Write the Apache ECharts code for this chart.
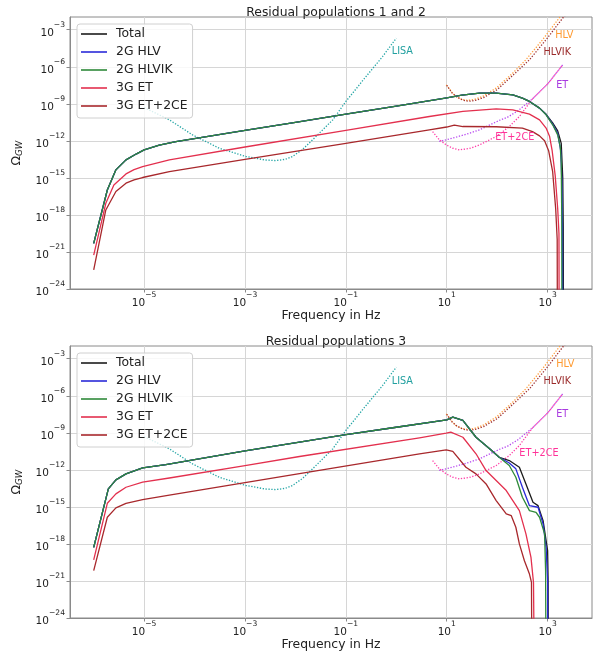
<!DOCTYPE html>
<html><head><meta charset="utf-8">
<script src="https://cdn.jsdelivr.net/npm/echarts@6/dist/echarts.min.js"></script>
<style>html,body{margin:0;padding:0;background:#fff}#c{width:606px;height:655px}</style>
</head><body><div id="c"></div>
<script>
// ---------------- data (all values are log10 exponents) ----------------
const xTicks = [-5, -3, -1, 1, 3];          // log10 f
const yTicks = [-24, -21, -18, -15, -12, -9, -6, -3]; // log10 Omega
const titles = ['Residual populations 1 and 2', 'Residual populations 3'];
const popNames = ['Total', '2G HLV', '2G HLVIK', '3G ET', '3G ET+2CE'];
const sensNames = ['LISA', 'HLV', 'HLVIK', 'ET', 'ET+2CE'];

// Panel 1 : residual populations 1 and 2
const p1TotalF  = [-6.0,-5.73,-5.56,-5.36,-5.15,-5.0,-4.7,-4.37,-3,-2,-1,0,1.0,1.3,1.65,1.98,2.31,2.5,2.64,2.84,2.97,3.1,3.2,3.27,3.3,3.31,3.315];
const p1TotalO  = [-20.3,-15.98,-14.35,-13.54,-13.05,-12.73,-12.35,-12.06,-11.16,-10.5,-9.84,-9.18,-8.52,-8.3,-8.13,-8.13,-8.27,-8.54,-8.81,-9.35,-9.85,-10.55,-11.2,-12.2,-15,-19,-30];
const p1HlvF    = [-6.0,-5.73,-5.56,-5.36,-5.15,-5.0,-4.7,-4.37,-3,-2,-1,0,1.0,1.3,1.65,1.98,2.31,2.5,2.64,2.84,2.97,3.1,3.2,3.26,3.28,3.295,3.3];
const p1HlvO    = [-20.3,-15.98,-14.35,-13.54,-13.05,-12.73,-12.35,-12.06,-11.16,-10.5,-9.84,-9.18,-8.52,-8.3,-8.13,-8.13,-8.27,-8.54,-8.81,-9.35,-9.87,-10.65,-11.4,-12.8,-15,-19,-30];
const p1HlvikF  = [-6.0,-5.73,-5.56,-5.36,-5.15,-5.0,-4.7,-4.37,-3,-2,-1,0,1.0,1.3,1.65,1.98,2.31,2.5,2.64,2.84,2.97,3.1,3.2,3.25,3.27,3.28,3.285];
const p1HlvikO  = [-20.3,-15.98,-14.35,-13.54,-13.05,-12.73,-12.35,-12.06,-11.16,-10.5,-9.84,-9.18,-8.52,-8.3,-8.13,-8.13,-8.27,-8.54,-8.81,-9.35,-9.89,-10.7,-11.52,-12.46,-13.8,-18,-30];
const p1EtF     = [-6.0,-5.76,-5.6,-5.36,-5.2,-5.03,-4.5,-3,-1,0.655,1.32,1.98,2.31,2.64,2.84,2.97,3.04,3.09,3.15,3.2,3.225,3.23];
const p1EtO     = [-21.25,-17.06,-15.57,-14.68,-14.33,-14.08,-13.54,-12.5,-11.15,-10.03,-9.62,-9.41,-9.49,-9.84,-10.3,-10.97,-11.65,-12.8,-14.8,-17.5,-19.5,-30];
const p1Et2ceF  = [-6.0,-5.76,-5.56,-5.36,-5.2,-5.03,-4.5,-3,-1,0.655,1.0,1.15,1.32,1.98,2.5,2.7,2.84,2.94,3.02,3.1,3.16,3.19,3.195];
const p1Et2ceO  = [-22.46,-17.6,-16.1,-15.43,-15.17,-14.97,-14.49,-13.5,-12.2,-11.11,-10.88,-10.72,-10.84,-10.86,-10.97,-11.25,-11.6,-12.0,-12.8,-14.5,-17.5,-20,-30];

// Panel 2 : residual populations 3
const p2TotalF  = [-6.0,-5.71,-5.56,-5.36,-5.03,-4.57,-3,-1.92,-1.0,0,1.0,1.12,1.32,1.58,1.85,2.04,2.24,2.44,2.57,2.71,2.81,2.91,3.0,3.01,3.015];
const p2TotalO  = [-18.28,-13.54,-12.81,-12.33,-11.84,-11.57,-10.47,-9.76,-9.14,-8.55,-7.95,-7.73,-8.0,-9.36,-10.3,-10.98,-11.25,-11.79,-13.14,-14.63,-14.9,-16.11,-18.55,-21,-30];
const p2HlvF    = [-6.0,-5.71,-5.56,-5.36,-5.03,-4.57,-3,-1.92,-1.0,0,1.0,1.12,1.32,1.58,1.85,2.04,2.24,2.37,2.5,2.64,2.81,2.91,2.97,3.0,3.005];
const p2HlvO    = [-18.28,-13.54,-12.81,-12.33,-11.84,-11.57,-10.47,-9.76,-9.14,-8.55,-7.95,-7.73,-8.0,-9.36,-10.3,-10.98,-11.45,-11.92,-13.41,-14.9,-15.03,-16.38,-18.28,-20.98,-30];
const p2HlvikF  = [-6.0,-5.71,-5.56,-5.36,-5.03,-4.57,-3,-1.92,-1.0,0,1.0,1.12,1.32,1.58,1.85,2.04,2.24,2.37,2.5,2.64,2.77,2.84,2.94,2.96,2.97];
const p2HlvikO  = [-18.28,-13.54,-12.81,-12.33,-11.84,-11.57,-10.47,-9.76,-9.14,-8.55,-7.95,-7.73,-8.0,-9.36,-10.3,-10.98,-11.65,-12.6,-14.22,-15.3,-15.44,-15.84,-17.19,-20.17,-30];
const p2EtF     = [-6.0,-5.73,-5.56,-5.36,-5.03,-4.5,-3,-1.92,0.46,0.99,1.08,1.32,1.58,1.78,1.98,2.18,2.31,2.44,2.57,2.67,2.72,2.74];
const p2EtO     = [-19.3,-14.71,-13.95,-13.41,-13.0,-12.66,-11.65,-10.92,-9.41,-9.03,-8.95,-9.36,-10.7,-12.06,-12.87,-13.68,-14.49,-15.3,-17.19,-19.09,-21.12,-30];
const p2Et2ceF  = [-6.0,-5.73,-5.56,-5.36,-5.03,-4.5,-3,-1.92,0.46,0.99,1.12,1.38,1.58,1.78,1.98,2.18,2.28,2.37,2.44,2.54,2.64,2.68,2.69];
const p2Et2ceO  = [-20.17,-15.84,-15.08,-14.71,-14.41,-14.05,-13.03,-12.3,-10.7,-10.38,-10.5,-11.79,-12.33,-13.14,-14.49,-15.57,-15.71,-16.65,-18.0,-19.36,-20.44,-21.12,-30];

// Detector sensitivity curves (same in both panels)
const lisaF  = [-5,-4.5,-4.04,-3.51,-2.98,-2.6,-2.39,-2.2,-2.06,-1.86,-1.66,-1.26,-1.0,-0.6,-0.27,0];
const lisaO  = [-9.3,-10.3,-11.52,-12.6,-13.27,-13.55,-13.6,-13.5,-13.27,-12.7,-11.92,-10.3,-8.81,-6.79,-5.16,-3.68];
const hlvF   = [0.99,1.1,1.18,1.3,1.41,1.55,1.71,1.98,2.31,2.57,2.9,3.23,3.4];
const hlvO   = [-7.46,-8.05,-8.41,-8.65,-8.73,-8.65,-8.41,-7.73,-6.51,-5.43,-3.81,-2.05,-1.1];
const hlvikF = [1.0,1.1,1.2,1.32,1.43,1.57,1.73,2.0,2.35,2.64,2.97,3.3,3.4];
const hlvikO = [-7.5,-8.1,-8.45,-8.7,-8.8,-8.72,-8.5,-7.85,-6.55,-5.43,-3.81,-2.05,-1.6];
const etF    = [0.85,1.0,1.2,1.4,1.65,2.04,2.2,2.4,2.7,3.0,3.3];
const etO    = [-12.05,-11.9,-11.68,-11.45,-11.11,-10.35,-10.1,-9.6,-8.6,-7.4,-5.84];
const et2ceF = [0.72,0.85,0.99,1.12,1.25,1.45,1.65,1.98,2.24,2.44,2.7,3.0,3.3];
const et2ceO = [-11.25,-11.9,-12.33,-12.6,-12.73,-12.62,-12.33,-11.65,-10.84,-10.03,-8.6,-7.4,-5.84];

// ---------------- chart ----------------
const FONT = 'DejaVu Sans';
const popColors = ['#1c1c1c', '#2a2ad8', '#2f8a3a', '#e3304e', '#a8282c'];
const sensColors = ['#26a6a6', '#ffa040', '#a03030', '#b84cf0', '#ff3fa8'];
const sensLabelColors = ['#22a0a0', '#ff9a30', '#9a2a2a', '#a83ae0', '#ff3399'];
const pairs = (f, o) => f.map((v, i) => [v, o[i]]);

const panels = [
  { pops: [[p1TotalF,p1TotalO],[p1HlvF,p1HlvO],[p1HlvikF,p1HlvikO],[p1EtF,p1EtO],[p1Et2ceF,p1Et2ceO]],
    labels: [[-0.09,-4.78],[3.15,-3.46],[2.92,-4.81],[3.17,-7.52],[1.96,-11.7]] },
  { pops: [[p2TotalF,p2TotalO],[p2HlvF,p2HlvO],[p2HlvikF,p2HlvikO],[p2EtF,p2EtO],[p2Et2ceF,p2Et2ceO]],
    labels: [[-0.09,-4.84],[3.17,-3.46],[2.92,-4.82],[3.17,-7.52],[2.44,-10.65]] }
];
const sens = [[lisaF,lisaO],[hlvF,hlvO],[hlvikF,hlvikO],[etF,etO],[et2ceF,et2ceO]];

const gridTops = [17, 346];
const gridH = 272;
const series = [];
panels.forEach((p, k) => {
  sens.forEach((s, j) => {
    series.push({
      type: 'line', xAxisIndex: k, yAxisIndex: k, name: '_' + sensNames[j],
      data: pairs(s[0], s[1]), showSymbol: false, symbol: 'none',
      lineStyle: { color: sensColors[j], width: 1.3, type: [1.3, 1.6] }, z: 2,
      markPoint: {
        symbol: 'circle', symbolSize: 0, silent: true,
        label: { show: true, position: 'right', distance: 0, formatter: sensNames[j],
                 color: sensLabelColors[j], fontSize: 9.7, fontFamily: FONT },
        data: [{ coord: p.labels[j], name: sensNames[j] }]
      }
    });
  });
  p.pops.forEach((d, j) => {
    series.push({
      type: 'line', xAxisIndex: k, yAxisIndex: k, name: popNames[j],
      data: pairs(d[0], d[1]), showSymbol: false, symbol: 'none',
      color: popColors[j], lineStyle: { color: popColors[j], width: 1.3, join: 'round' }, z: 3
    });
  });
});

const axisText = { color: '#222', fontFamily: FONT };
const supRich = {
  b: { fontSize: 10.5, fontFamily: FONT, color: '#222', lineHeight: 18, verticalAlign: 'bottom' },
  s: { fontSize: 7.6, fontFamily: FONT, color: '#222', lineHeight: 9, verticalAlign: 'top' }
};
const powFmt = v => '{b|10}{s|' + (v < 0 ? '\u2212' : '') + Math.abs(v) + '}';

const option = {
  animation: false,
  backgroundColor: '#fff',
  title: titles.map((t, k) => ({
    text: t, left: 331, top: gridTops[k] - 15, textAlign: 'center',
    textStyle: { fontFamily: FONT, fontSize: 12.4, fontWeight: 'normal', color: '#222' }
  })),
  legend: [0, 1].map(k => ({
    data: popNames, orient: 'vertical', left: 77, top: gridTops[k] + 7,
    icon: 'rect', itemWidth: 26, itemHeight: 1.6, itemGap: 4, selectedMode: false,
    padding: [3, 5, 5, 4], backgroundColor: 'rgba(255,255,255,0.82)',
    borderColor: '#d0d0d0', borderWidth: 1, borderRadius: 3,
    textStyle: { fontFamily: FONT, fontSize: 12.4, color: '#222', lineHeight: 14, padding: [0, 0, 0, 4] }
  })),
  grid: gridTops.map(t => ({ left: 70, top: t, width: 522, height: gridH, show: true,
    borderColor: '#8a8a8a', borderWidth: 1, backgroundColor: 'transparent' })),
  xAxis: [0, 1].map(k => ({
    type: 'value', gridIndex: k, min: -6.47, max: 3.88,
    name: 'Frequency in Hz', nameLocation: 'middle', nameGap: 19,
    nameTextStyle: { fontFamily: FONT, fontSize: 12.4, color: '#222' },
    axisLine: { show: true, onZero: false, lineStyle: { color: '#8a8a8a', width: 1 } },
    axisTick: { show: true, length: 3.5, customValues: xTicks, lineStyle: { color: '#8a8a8a' } },
    axisLabel: { customValues: xTicks, formatter: powFmt, rich: supRich, margin: 2, ...axisText },
    splitLine: { show: true, lineStyle: { color: '#d6d6d6', width: 1 } }
  })),
  yAxis: [0, 1].map(k => ({
    type: 'value', gridIndex: k, min: -24, max: -1.97,
    name: '{o|\u03A9}{g|GW}', nameLocation: 'middle', nameGap: 44, nameRotate: 90,
    nameTextStyle: { rich: {
      o: { fontFamily: FONT, fontSize: 12.4, color: '#222', lineHeight: 14, verticalAlign: 'top' },
      g: { fontFamily: FONT, fontSize: 8.7, fontStyle: 'italic', color: '#222', lineHeight: 7, verticalAlign: 'bottom' } } },
    axisLine: { show: true, onZero: false, lineStyle: { color: '#8a8a8a', width: 1 } },
    axisTick: { show: true, length: 3.5, customValues: yTicks, lineStyle: { color: '#8a8a8a' } },
    axisLabel: { customValues: yTicks, formatter: powFmt, rich: supRich, margin: 5, ...axisText },
    splitLine: { show: true, lineStyle: { color: '#d6d6d6', width: 1 } }
  })),
  series: series
};

const chart = echarts.init(document.getElementById('c'), null, { renderer: 'canvas' });
chart.setOption(option);
</script>
</body></html>
